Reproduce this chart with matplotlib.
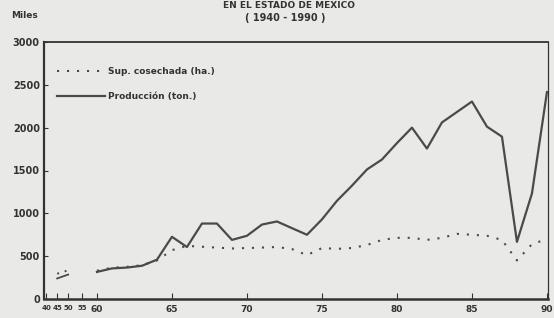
import matplotlib
matplotlib.use("Agg")
import matplotlib.pyplot as plt
import numpy as np

# ---- data ----
years_early = [1945, 1950]
prod_early = [240, 285]
sup_early = [295, 335]

years = list(range(1960, 1991))
produccion = [316, 357, 367, 388, 459, 726, 607, 881, 881, 690, 738, 869, 905, 827,
              750, 929, 1146, 1323, 1512, 1628, 1820, 2000, 1756, 2061, 2183, 2305,
              2012, 1895, 667, 1232, 2415]
sup_cosechada = [330, 365, 375, 395, 450, 570, 620, 610, 600, 590, 595, 600, 607, 583,
                 512, 595, 585, 595, 630, 690, 714, 714, 690, 714, 760, 750, 738, 690,
                 450, 640, 700]

xtick_years = [1940, 1945, 1950, 1955, 1960, 1965, 1970, 1975, 1980, 1985, 1990]
xtick_labels = ["40", "45", "50", "55", "60", "65", "70", "75", "80", "85", "90"]
ytick_vals = [0, 500, 1000, 1500, 2000, 2500, 3000]

# compressed axis before 1960
def pos(y):
    return np.interp(y, [1940, 1945, 1950, 1955, 1960, 1990],
                     [1956.62, 1957.35, 1958.08, 1959.0, 1960.0, 1990.0])

BG = "#e9e9e7"
LC = "#4a4a4a"
W, H = 554, 318
fig = plt.figure(figsize=(W / 100, H / 100), dpi=100, facecolor=BG)
ax = fig.add_axes([44 / W, 1 - 299 / H, (548 - 44) / W, (299 - 42) / H])
ax.set_facecolor(BG)

ax.plot(pos(years_early), prod_early, color=LC, lw=1.3)
ax.plot(pos(years_early), sup_early, color=LC, lw=1.4, ls=(0, (1, 3.0)))
ax.plot(pos(years), sup_cosechada, color=LC, lw=1.5, ls=(0, (1, 3.8)),
        label="Sup. cosechada (ha.)")
ax.plot(pos(years), produccion, color=LC, lw=1.6, label="Producción (ton.)")

ax.set_xlim(1956.47, 1990.07)
ax.set_ylim(0, 3000)
ax.set_xticks(pos(xtick_years))
ax.set_xticklabels(xtick_labels)
ax.set_yticks(ytick_vals)
ax.set_yticklabels([str(v) for v in ytick_vals])

for i, lab in enumerate(ax.get_xticklabels()):
    lab.set_fontweight("bold"); lab.set_color("#333333")
    lab.set_fontsize(5.0 if i < 4 else 6.5)
for lab in ax.get_yticklabels():
    lab.set_fontweight("bold"); lab.set_fontsize(7); lab.set_color("#333333")
ax.tick_params(axis="x", direction="in", length=4, width=0.8, pad=4, colors="#333333")
ax.tick_params(axis="y", direction="in", length=3, width=0.8, pad=3, colors="#333333")

ax.spines["left"].set_linewidth(1.6)
ax.spines["bottom"].set_linewidth(1.8)
ax.spines["top"].set_linewidth(1.3)
ax.spines["right"].set_linewidth(0.9)
for s in ax.spines.values():
    s.set_color("#333333")

leg = ax.legend(loc="upper left", bbox_to_anchor=(0.018, 0.915), frameon=False,
                prop={"weight": "bold", "size": 6.5}, handlelength=5.3,
                handletextpad=0.35, labelspacing=1.75, borderaxespad=0)
for t in leg.get_texts():
    t.set_color("#333333")

fig.text(289 / W, 1 - 5 / H, "EN EL ESTADO DE MEXICO", ha="center", va="center",
         fontsize=6.5, fontweight="bold", color="#333333")
fig.text(285 / W, 1 - 18 / H, "( 1940 - 1990 )", ha="center", va="center",
         fontsize=7, fontweight="bold", color="#333333")
fig.text(25 / W, 1 - 15 / H, "Miles", ha="center", va="center",
         fontsize=6.5, fontweight="bold", color="#333333")

fig.savefig("out.png", dpi=100, facecolor=BG)
